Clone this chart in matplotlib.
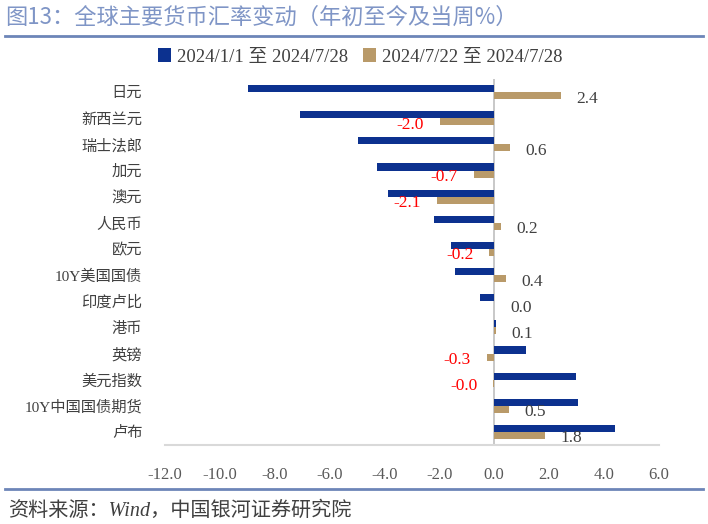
import numpy as np
import matplotlib
matplotlib.use('Agg')
import matplotlib.pyplot as plt

plt.rcParams['font.family'] = ['Liberation Serif', 'Noto Sans CJK SC', 'DejaVu Sans']

# 数据
categories = ['日元', '新西兰元', '瑞士法郎', '加元', '澳元', '人民币', '欧元',
              '10Y美国国债', '印度卢比', '港币', '英镑', '美元指数', '10Y中国国债期货', '卢布']
ytd = [-8.97, -7.07, -4.94, -4.25, -3.85, -2.2, -1.58,
       -1.42, -0.51, 0.05, 1.15, 2.98, 3.06, 4.4]
week = [2.42, -1.98, 0.57, -0.73, -2.07, 0.24, -0.17,
        0.42, 0.01, 0.06, -0.27, -0.03, 0.53, 1.84]
x_ticks = [-12, -10, -8, -6, -4, -2, 0, 2, 4, 6]

c_blue = '#0c318f'
c_gold = '#b99a69'

fig = plt.figure(figsize=(7.08, 5.24), dpi=100)
ax = fig.add_axes([164.5 / 708, 1 - 445 / 524, (659 - 164.5) / 708, (445 - 79) / 524])

y = np.arange(len(categories))
h = 0.27
ax.barh(y - h / 2, ytd, height=h, color=c_blue, label='2024/1/1 至 2024/7/28')
ax.barh(y + h / 2, week, height=h, color=c_gold, label='2024/7/22 至 2024/7/28')

# 数据标签（只标注当周）
for yi, v in zip(y, week):
    txt = '%.1f' % v
    if v < 0 or txt.startswith('-'):
        ax.annotate(txt, (v, yi + h / 2), xytext=(-16, -3), textcoords='offset pixels',
                    ha='right', va='center', color='#ff0000', fontsize=12.5)
    else:
        ax.annotate(txt, (v, yi + h / 2), xytext=(16, -3), textcoords='offset pixels',
                    ha='left', va='center', color='#404040', fontsize=12.5)

ax.axvline(0, color='#bfbfbf', lw=1.2, zorder=0)
ax.set_xlim(-12, 6)
ax.set_ylim(len(categories) - 0.5, -0.5)
ax.set_xticks(x_ticks)
ax.set_xticklabels(['%.1f' % t for t in x_ticks])
ax.set_yticks(y)
ax.set_yticklabels(categories)
ax.tick_params(axis='x', length=0, pad=16, labelsize=12, labelcolor='#595959')
ax.tick_params(axis='y', length=0, pad=16, labelsize=11, labelcolor='#404040')
for s in ['top', 'right', 'left']:
    ax.spines[s].set_visible(False)
ax.spines['bottom'].set_color('#d9d9d9')
ax.spines['bottom'].set_linewidth(1.5)

ax.legend(loc='center', bbox_to_anchor=(360 / 708, 1 - 57 / 524), bbox_transform=fig.transFigure,
          ncol=2, frameon=False, fontsize=13.5, handlelength=0.7, handleheight=0.7,
          handletextpad=0.3, columnspacing=0.8, labelcolor='#404040')

# 标题和来源
fig.text(5 / 708, 1 - 17 / 524, '图13：全球主要货币汇率变动（年初至今及当周%）',
         fontsize=16, color='#7f95c6', va='center', ha='left',
         family=['Noto Sans CJK SC', 'DejaVu Sans'])
fig.add_artist(plt.Line2D([5 / 708, 703 / 708], [1 - 36 / 524, 1 - 36 / 524], color='#6d85b8', lw=2))
fig.add_artist(plt.Line2D([5 / 708, 703 / 708], [1 - 489 / 524, 1 - 489 / 524], color='#6d85b8', lw=2))
fig.text(8 / 708, 1 - 511 / 524, '资料来源：Wind，中国银河证券研究院', fontsize=14.5, style='italic',
         color='#404040', va='center', ha='left')

fig.savefig('out.png', dpi=100)
